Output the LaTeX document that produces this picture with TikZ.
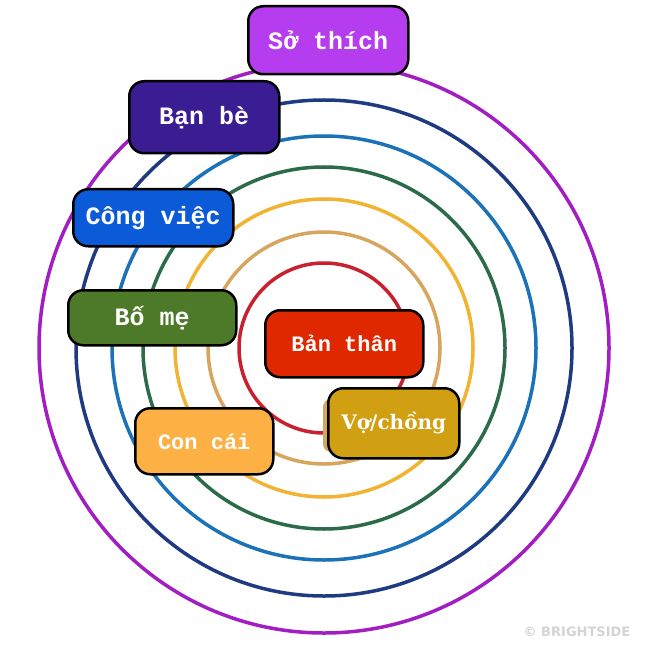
\documentclass[tikz,border=0pt]{standalone}
\usepackage{fontspec}
\setmonofont{Liberation Mono}
\newfontfamily\vofont{DejaVu Serif}
\newfontfamily\wmfont{DejaVu Sans}
\definecolor{cpurple}{HTML}{A21EC2}
\definecolor{cnavy}{HTML}{1E3A80}
\definecolor{cblue}{HTML}{1C72B8}
\definecolor{cgreen}{HTML}{2B6B4A}
\definecolor{cyellow}{HTML}{F2B332}
\definecolor{ctan}{HTML}{D8A55F}
\definecolor{cred}{HTML}{C8202E}
\definecolor{bpurple}{HTML}{B63CF0}
\definecolor{bindigo}{HTML}{3A1D92}
\definecolor{bblue}{HTML}{0B5BD8}
\definecolor{bgreen}{HTML}{4D7A29}
\definecolor{bred}{HTML}{E02800}
\definecolor{borange}{HTML}{FDB043}
\definecolor{bgold}{HTML}{D19F12}
\definecolor{wmgray}{HTML}{D4D4D4}
\tikzset{
  ring/.style={line width=3.5pt},
  labelbox/.style={draw=black, line width=2.5pt, rounded corners=15pt, text=white, font=\ttfamily\bfseries, inner sep=0pt, anchor=north west},
}
\begin{document}
\begin{tikzpicture}[x=1pt,y=-1pt]
\useasboundingbox (0,0) rectangle (649,652);
\fill[white] (0,0) rectangle (649,652);
\coordinate (c) at (324,348);
\draw[ring, cpurple] (c) circle[radius=285];
\draw[ring, cnavy] (c) circle[radius=248];
\draw[ring, cblue] (c) circle[radius=212];
\draw[ring, cgreen] (c) circle[radius=181];
\draw[ring, cyellow] (c) circle[radius=149];
\draw[ring, ctan] (c) circle[radius=116];
\draw[ring, cred] (c) circle[radius=85];
% boxes
\node[labelbox, fill=bpurple, minimum width=160pt, minimum height=68pt, font=\ttfamily\bfseries\fontsize{25}{25}\selectfont] (so) at (247,5) {Sở thích};
\node[labelbox, fill=bindigo, minimum width=150pt, minimum height=72pt, font=\ttfamily\bfseries\fontsize{25}{25}\selectfont] (ban) at (128,80) {Bạn bè};
\node[labelbox, fill=bblue, minimum width=160pt, minimum height=57pt, font=\ttfamily\bfseries\fontsize{25}{25}\selectfont] (cong) at (72,188) {Công việc};
\node[labelbox, fill=bgreen, minimum width=168pt, minimum height=55pt, font=\ttfamily\bfseries\fontsize{25}{25}\selectfont] (bo) at (67,289) {Bố mẹ};
\node[labelbox, fill=bred, minimum width=158pt, minimum height=67pt, font=\ttfamily\bfseries\fontsize{22}{22}\selectfont] (than) at (264,309) {Bản thân};
\node[labelbox, fill=borange, minimum width=138pt, minimum height=66pt, font=\ttfamily\bfseries\fontsize{22}{22}\selectfont] (con) at (134,407) {Con cái};
\fill[ctan, rounded corners=8pt] (323,399) rectangle (345,452);
\node[labelbox, fill=bgold, minimum width=131pt, minimum height=70pt, font=\vofont\bfseries\fontsize{20}{20}\selectfont] (vo) at (327,387) {Vợ/chồng};
\node[text=wmgray, font=\wmfont\bfseries\fontsize{13}{13}\selectfont, inner sep=0pt] (wm) at (577,632) {© BRIGHTSIDE};
\end{tikzpicture}
\end{document}
